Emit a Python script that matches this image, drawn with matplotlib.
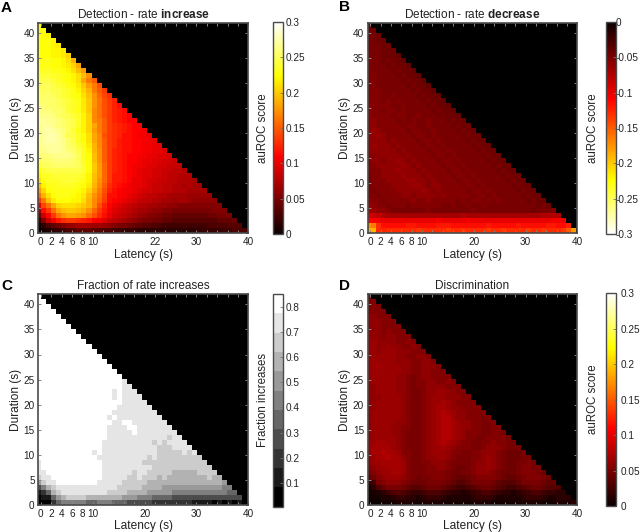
import matplotlib
matplotlib.use("Agg")
import matplotlib.pyplot as plt
import numpy as np

plt.rcParams["font.family"] = ["Liberation Sans", "DejaVu Sans"]
plt.rcParams["mathtext.fontset"] = "custom"
plt.rcParams["mathtext.rm"] = "Liberation Sans"
plt.rcParams["mathtext.bf"] = "Liberation Sans:bold"

# each row runs from duration 41 down to 0, one char per latency bin (spaces only help counting)
# auROC chars: 0-9, a-z, A-Z count up in steps of 0.005
increase_rows = [
    "J", "JJ", "JJI", "JJJI", "JJJIH", "JJJII H", "JJJII HF", "KKKJJ IGC", "KKKJJ IHFB",
    "LLLKK JIGDA", "MMMLL KJIGD z", "NNNML KJIGB xu", "NOONM LKJHE Axt", "OOONN MLKIF Cxur",
    "OPPON MLKJG Dzvsq", "PPPPO NMLKH Ezwtr p", "QQPPO NMLKH Ezwtr pn", "RQQPP OMLKH Eywtr pon",
    "RRRQP ONMLI Fywtr ponm", "SSRRQ PONLI Fyxur ponmm", "RSSRQ PONLI FBxur qponm m",
    "RSTSR QOMKI FAxur qponm ml", "RSTTS QNNLJ GBytr qpnnm llk", "RSTTS RPNLJ GByur qonnm mllk",
    "QSSSS RPOMK HCyur qonnm mllkk", "QRSSS RQPNL ICzur ponnm mllkk j",
    "PQQRR RRQOL JDzur ponmm llkkj ji", "OPPQQ QQPOL JDzur ponmm lkkjj iih",
    "MOOPP PPPOM JEAvr ponml lkjji ihhg", "KMNNN NNNNM JEAvr ponml kjjii hhggf",
    "ILLMM MMMML IDAvr oonml kjjii hggff f", "GKLLL MMMLK IDzvr oonmk kjiih hggff fe",
    "DIKKL LLLKJ HCyuq onmlk kjihh ggffe fee", "AFJKK KKKJI FBxtp nmllk jiihh ggfff eeee",
    "wCGJK KKJIH Dzwsn nmlkj ihggf feeee ddddd", "rxDHJ JJIIG Cyvrn mlkji hggff eedee dcccc c",
    "kswBF GGGFE Cytpm kjihg ffeed dccbb bbbbb bb", "enrwB DEEDC zvrol jihgf eedcc bbaaa aaaaa bbb",
    "9hmrw zBBAz wtqnk ihgfe dcbba 99888 88889 9aaa", "4bhlo qrrqp omljh gfedc baa99 88777 77777 78889",
    "13689 bcdee ededc baa98 87766 55555 55556 66677 7",
    "01234 56788 87766 55444 33333 33333 33444 44556 66",
]

decrease_rows = [
    "9", "99", "aa9", "aa99", "aaa99", "aaa99 9", "baa99 98", "baa9a 998", "baaa9 a998",
    "baaaa 9a998", "bbaaa a9a99 8", "bbaaa aa9a9 98", "bbaaa aaa9a 998", "bbbaa aaaa9 a998",
    "bbbaa baaaa 9a998", "bbbab abaaa a9a99 8", "cbbbb aabaa aa9a9 98", "cbbab babaa aaa9a 998",
    "cbbbb abbaa baaa9 a998", "ccbbb babab aabaa a9a99", "ccbbb bbabb aabaa aa9a9 9",
    "cdcbb bbbab baaba aaa9a 99", "ccdcb bbbba bbaba aaaa9 a99", "ccccb cbbbb abbab aaaaa 9a99",
    "cdccc bcbbb babba baaaa a9a99", "ccccc cbcbb bbabb abaaa aa9a9 9",
    "cbccc ccbcb bbbab babaa aaa9a 99", "bccbc cdcbc bbbba bbaba aaaa9 a99",
    "bbccc ccdcb cbbbb abbab aaaaa 9a99", "bbbcc cdccc bcbbb babba baaaa a9a99",
    "abbcc ccdcc cbcbb bbabb abaaa aa9a9 9", "abbbc cccdd ccbcb bbbab babaa aaa9a 99",
    "abbbb ccccd dcbcc bbbba bbaba aaaa9 a99", "babbb bcccc cdcbc bbbbb abbab aaaaa 9a99",
    "bbabb bbccb ccccb cbbbb babba baaaa a9a99", "cbbab bbbbc bbcbb bbbab abbab abaaa aa9a9 9",
    "dcbba bbbab bbbbb aabaa baaba aaaaa aaaa9 a9", "edccb aaaaa aabaa aaaaa abaaa aaaaa aaa9a aab",
    "ihgfe eeeee eeeee eeeef eeeee eeeee eeeee ffff", "mllkk kkkkk kkkkl kkkkk lkkkk kkkkk kkkkk kklll",
    "yxqnn nnnoo nnnno oonnn nnnno nnnnn onnnn noonn p",
    "CCqpq qqqqq rqqqq qrqqr qqqqr qqrqq qqrqq rqqqr uA",
]

discrimination_rows = [
    "a", "ab", "bbb", "bbbb", "ccbbb", "cccbb b", "cccbb bb", "dccbc bbb", "dccbc cbbb",
    "ddccc cbbcb", "ddccd ccbbc b", "ddcdd dcccb bb", "ddddd dccbb ccb", "ddddd dcccb bccb",
    "ddedd ddccb bcccb", "ddddd ddccb bccbb b", "ddddd dccba bccbb bb", "ddddd dccba bbccb bcb",
    "ccddd dccba bbccc cbbb", "ccddd dccba abccd dccbb", "cccdd ddcba abcdd dcccb b",
    "ccddd ddcba abcdd edcbb bb", "ccddd ddcba abcde edccb bbb", "cdddd ddcba abcde fedcc bbbb",
    "cdddd ddcba abcde ffdcc bbbab", "cdddd dccba abcde ffedc cbbaa b",
    "cdddd ccbba abcde ffedc cbbaa bb", "cdddd ccbaa abcde ffedc bbbaa bba",
    "cdddd dcbaa abcde ffedc bbaab bbba", "ddeed dcbaa abcde fedcb baabb cbbaa",
    "deeee dcbaa abcdd edcbb baabc ccbaa a", "deefe edbba abcdd dcbba abbcc cba99 9a",
    "cdeef eecba abccd dcbaa abbcd cba99 9aa", "cddee eedba abbcc cbaaa abccd cba99 aaba",
    "bcdde eedba aabbc cba99 abccd cba99 abbaa", "abcdd eedba aabbb ba99a abccc ba999 abbba 9",
    "89bcd ddcba 9aabb ba988 9abbb ba988 9abbb a9", "45abc ccba9 99aaa a9877 8aaaa 98777 8aaaa 988",
    "2368a aa987 78999 87655 67899 87655 67899 8776", "11235 67654 45666 54332 34566 54332 34566 54433",
    "01122 34433 23444 32222 23444 32222 23444 32233 3",
    "00011 12222 12222 11111 12222 11111 12222 11122 23",
]

# fraction chars: 0-9 and a are the 11 grey bands of the colorbar
fraction_rows = [
    "a", "aa", "aaa", "aaaa", "aaaaa", "aaaaa a", "aaaaa aa", "aaaaa aaa", "aaaaa aaaa",
    "aaaaa aaaaa", "aaaaa aaaaa a", "aaaaa aaaaa aa", "aaaaa aaaaa aaa", "aaaaa aaaaa aaaa",
    "aaaaa aaaaa aaaaa", "aaaaa aaaaa aaaaa a", "aaaaa aaaaa aaaaa aa", "aaaaa aaaaa aaaaa aa9",
    "aaaaa aaaaa aaaaa aa99", "aaaaa aaaaa aaaaa 9a999", "aaaaa aaaaa aaaaa 9a999 9",
    "aaaaa aaaaa aaaaa aa999 99", "aaaaa aaaaa aaaaa a9999 999", "aaaaa aaaaa aaaaa 99999 9999",
    "aaaaa aaaaa aaaa9 a9999 99999", "aaaaa aaaaa aaaaa 99aa9 99999 9",
    "aaaaa aaaaa aaaa9 999aa 99999 99", "aaaaa aaaaa aaaa9 9999a 99999 999",
    "aaaaa aaaaa aaaa9 99999 99999 9899", "aaaaa aaaaa aaa99 99999 99989 89999",
    "aaaaa aaaaa aaa99 99999 99998 88999 9", "aaaaa aaaaa a9a99 99999 99998 88889 89",
    "aaaaa aaaaa aa999 99999 99898 88888 888", "9aaaa aaaaa aaa99 99999 98888 88888 8888",
    "9aaaa aaaaa aaa99 99999 99988 88888 88888", "99aaa aaaaa aaa99 99998 99888 88777 77888 8",
    "899aa aaaaa aaa99 99988 98887 87777 77778 77", "6899a aaaaa aa999 99888 88777 77777 77777 776",
    "35789 99999 99999 98888 87777 66666 66666 6655", "12478 99999 99998 88877 77666 66555 55555 55544",
    "01146 78888 77777 77666 55544 44333 33333 33333 3",
    "00024 55555 44555 44433 33322 22222 21111 01010 10",
]

score_chars = "0123456789abcdefghijklmnopqrstuvwxyzABCDEFGHIJKLMNOPQRSTUVWXYZ"
score_ticks = [0, 0.05, 0.1, 0.15, 0.2, 0.25, 0.3]
score_labels = ["0", "0.05", "0.1", "0.15", "0.2", "0.25", "0.3"]
decrease_ticks = [0, -0.05, -0.1, -0.15, -0.2, -0.25, -0.3]
decrease_labels = ["0", "-0.05", "-0.1", "-0.15", "-0.2", "-0.25", "-0.3"]
fraction_ticks = [0.1, 0.2, 0.3, 0.4, 0.5, 0.6, 0.7, 0.8]
fraction_labels = ["0.1", "0.2", "0.3", "0.4", "0.5", "0.6", "0.7", "0.8"]

W, H = 640, 532
EDGE = "#4a4a4a"


def px_axes(fig, left, top, right, bottom):
    return fig.add_axes([left / W, 1 - bottom / H, (right - left) / W, (bottom - top) / H])


def rows_to_grid(rows, chars, step, offset=0.0, sign=1):
    grid = np.full((42, 42), np.nan)
    for i, row in enumerate(rows):
        row = row.replace(" ", "")
        for k, ch in enumerate(row):
            grid[41 - i, k] = sign * (offset + step * chars.index(ch))
    return grid


def panel(fig, box, cbox, grid, cmap, vmin, vmax, title, letter, letter_xy,
          mid_label, cticks, clabels, clabel, clabel_x, ctick_pad=2.2):
    ax = px_axes(fig, *box)
    ax.set_facecolor("black")
    # bins are a little narrower than one latency unit and the first one is cut by the axis
    im = ax.imshow(grid, origin="lower", aspect="auto", cmap=cmap, vmin=vmin, vmax=vmax,
                   extent=[-0.82, 39.69, 0, 42], interpolation="nearest")
    ax.set_xlim(-0.5, 40)
    ax.set_ylim(0, 42)
    xt = list(range(0, 41, 2))
    xl = {0: "0", 2: "2", 4: "4", 6: "6", 8: "8", 10: "10", mid_label: str(mid_label), 30: "30", 40: "40"}
    ax.set_xticks(xt)
    ax.set_xticklabels([xl.get(t, "") for t in xt])
    ax.set_yticks(range(0, 41, 5))
    ax.tick_params(direction="in", top=True, right=True, length=2.5, width=0.7, color="#8a8a8a",
                   labelsize=7.2, labelcolor="#222222", pad=2.6)
    for s in ax.spines.values():
        s.set_color(EDGE)
        s.set_linewidth(1.2)
    ax.set_xlabel("Latency (s)", fontsize=8.6, labelpad=1.2, color="#222222")
    ax.set_ylabel("Duration (s)", fontsize=8.6, labelpad=1, color="#222222")
    ax.set_title(title, fontsize=8.5, pad=3.5, color="#222222")
    fig.text(letter_xy[0] / W, 1 - letter_xy[1] / H, letter, fontsize=11, fontweight="bold",
             ha="left", va="center", color="black")

    cax = px_axes(fig, *cbox)
    cb = fig.colorbar(im, cax=cax)
    cb.set_ticks(cticks)
    cb.set_ticklabels(clabels)
    cax.tick_params(direction="in", length=2, width=0.6, color="#777777", labelsize=7.2,
                    labelcolor="#222222", pad=ctick_pad)
    cb.outline.set_edgecolor(EDGE)
    cb.outline.set_linewidth(1.0)
    fig.text(clabel_x / W, 1 - (cbox[1] + cbox[3]) / 2 / H, clabel, rotation=90, fontsize=8.3,
             ha="center", va="center", color="#222222")


fig = plt.figure(figsize=(6.4, 5.32), dpi=100)

panel(fig, (38.3, 23.3, 248.3, 233.3), (272.7, 21.7, 282.7, 234.3),
      rows_to_grid(increase_rows, score_chars, 0.005), "hot", 0, 0.3,
      r"Detection - rate $\mathbf{increase}$", "A", (1, 8), 22,
      score_ticks, score_labels, "auROC score", 262.5)

panel(fig, (367.7, 23.3, 577.3, 233.3), (605.7, 21.7, 615.7, 234.3),
      rows_to_grid(decrease_rows, score_chars, 0.005, sign=-1), "hot_r", -0.3, 0,
      r"Detection - rate $\mathbf{decrease}$", "B", (339, 7), 20,
      decrease_ticks, decrease_labels, "auROC score", 592.5, ctick_pad=0.2)

panel(fig, (38.3, 294.3, 248.3, 505), (272.7, 294, 282.7, 506.7),
      rows_to_grid(fraction_rows, "0123456789a", 0.0772, offset=0.042), plt.get_cmap("gray", 11), 0.004, 0.853,
      "Fraction of rate increases", "C", (1, 286), 20,
      fraction_ticks, fraction_labels, "Fraction increases", 262.5)

panel(fig, (367.7, 294.3, 577.3, 505), (605.7, 293.3, 615.7, 506),
      rows_to_grid(discrimination_rows, score_chars, 0.005), "hot", 0, 0.3,
      "Discrimination", "D", (339, 286), 20,
      score_ticks, score_labels, "auROC score", 592.5, ctick_pad=3.6)

fig.savefig("out.png", dpi=100)
